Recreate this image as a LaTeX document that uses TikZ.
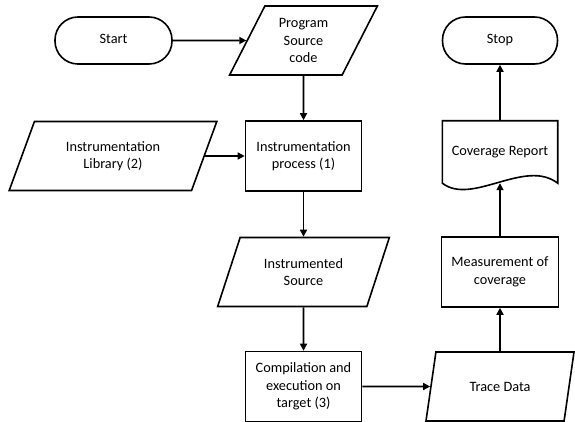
\documentclass[tikz,border=0pt]{standalone}
\usepackage{fontspec}
\setmainfont{Carlito}
\usetikzlibrary{shapes.geometric,arrows.meta}

\tikzset{
  terminal/.style={draw, line width=1.6pt, rounded corners=23pt, minimum width=117pt, minimum height=47pt,
                   text height=1.6ex, text depth=0.4ex},
  process/.style={draw, line width=1.6pt, minimum width=116pt, minimum height=70pt, align=center},
  iodata/.style={draw, line width=1.6pt, trapezium, trapezium left angle=63, trapezium right angle=117,
                 trapezium stretches=true, minimum height=69pt, align=center, inner sep=0pt},
  flow/.style={line width=1.6pt, -{Triangle[length=7pt,width=7pt]}}
}

\begin{document}
\begin{tikzpicture}[x=1pt,y=-1pt,font=\fontsize{14.3}{17.5}\selectfont]
        \useasboundingbox (0,0) rectangle (575,422);

        % left column
        \node[terminal] (start) at (113.5,40.5) {Start};
        \node[iodata, minimum width=149pt] (src) at (303.5,40.5) {Program\\Source\\code};
        \node[iodata, minimum width=208pt] (lib) at (113,156) {Instrumentation\\Library (2)};
        \node[process] (instr) at (303.5,156) {Instrumentation\\process (1)};
        \node[iodata, minimum width=172pt] (isrc) at (303.5,272) {Instrumented\\Source};
        \node[process] (comp) at (303.5,386.5) {Compilation and\\execution on\\target (3)};

        % right column
        \node[iodata, minimum width=149pt] (trace) at (500,386.5) {Trace Data};
        \node[process, minimum width=117pt] (meas) at (500,272) {Measurement of\\coverage};
        \node[minimum width=115pt, minimum height=62pt] (report) at (500,152) {Coverage Report};
        \draw[line width=1.6pt] (report.south west) -- (report.north west) -- (report.north east)
              -- (report.south east) .. controls (525,158) and (472,206) .. (report.south west) -- cycle;
        \node[terminal, minimum width=115pt] (stop) at (500,40.5) {Stop};

        \draw[flow] (start) -- (src);
        \draw[flow] (src) -- (instr);
        \draw[flow] (lib) -- (instr);
        \draw[flow] (instr) -- (isrc);
        \draw[flow] (isrc) -- (comp);
        \draw[flow] (comp) -- (trace);
        \draw[flow] (trace) -- (meas);
        \draw[flow] (meas) -- (report.south);
        \draw[flow] (report) -- (stop);
\end{tikzpicture}
\end{document}
